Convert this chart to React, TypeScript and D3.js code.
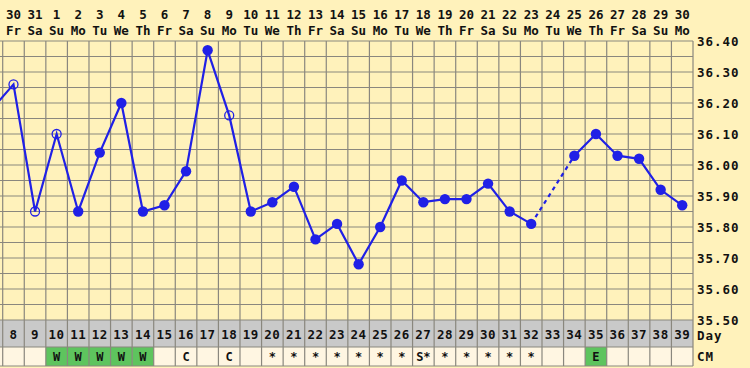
import * as d3 from "d3";
import { useEffect, useRef } from "react";

// chart days shown (cycle day numbers)
const cycleDays = d3.range(8, 40);
const dates = ["30", "31", "1", "2", "3", "4", "5", "6", "7", "8", "9", "10", "11", "12", "13", "14", "15", "16", "17", "18", "19", "20", "21", "22", "23", "24", "25", "26", "27", "28", "29", "30"];
const weekdays = ["Fr", "Sa", "Su", "Mo", "Tu", "We", "Th", "Fr", "Sa", "Su", "Mo", "Tu", "We", "Th", "Fr", "Sa", "Su", "Mo", "Tu", "We", "Th", "Fr", "Sa", "Su", "Mo", "Tu", "We", "Th", "Fr", "Sa", "Su", "Mo"];

// temperatures (day 7 runs off the left edge, day 33 missing)
const tempDays = [7, 8, 9, 10, 11, 12, 13, 14, 15, 16, 17, 18, 19, 20, 21, 22, 23, 24, 25, 26, 27, 28, 29, 30, 31, 32, 34, 35, 36, 37, 38, 39];
const temps = [36.18, 36.26, 35.85, 36.1, 35.85, 36.04, 36.2, 35.85, 35.87, 35.98, 36.37, 36.16, 35.85, 35.88, 35.93, 35.76, 35.81, 35.68, 35.8, 35.95, 35.88, 35.89, 35.89, 35.94, 35.85, 35.81, 36.03, 36.1, 36.03, 36.02, 35.92, 35.87];
const openDays = [8, 9, 10, 18];

const yTicks = [36.4, 36.3, 36.2, 36.1, 36.0, 35.9, 35.8, 35.7, 35.6, 35.5];

// cervical mucus row
const cmDays = [10, 11, 12, 13, 14, 16, 18, 20, 21, 22, 23, 24, 25, 26, 27, 28, 29, 30, 31, 32, 35];
const cmCodes = ["W", "W", "W", "W", "W", "C", "C", "*", "*", "*", "*", "*", "*", "*", "S*", "*", "*", "*", "*", "*", "E"];
const cmGreen = ["W", "E"];

const W = 750;
const H = 368;

const App: React.FC = () => {
  const ref = useRef<SVGSVGElement | null>(null);

  useEffect(() => {
    if (!ref.current) return;
    const svg = d3.select(ref.current);
    svg.selectAll("*").remove();

    const left = 2.7;
    const right = 693;
    const top = 41;
    const bottom = 320;
    const dayBottom = 347;
    const cmBottom = 366;
    const font = "'DejaVu Sans Mono', monospace";

    const x = d3.scaleLinear().domain([7.5, 39.5]).range([left, right]);
    const y = d3.scaleLinear().domain([35.5, 36.4]).range([bottom, top]);
    const colW = x(1) - x(0);

    svg.append("rect").attr("width", W).attr("height", H).attr("fill", "#fff2bb");

    // day row and cm row backgrounds
    svg.append("rect").attr("x", 0).attr("y", bottom).attr("width", right).attr("height", dayBottom - bottom).attr("fill", "#c9c9c9");
    svg.append("rect").attr("x", 0).attr("y", dayBottom).attr("width", right).attr("height", cmBottom - dayBottom).attr("fill", "#fff6e2");

    const cm = cmDays.map((d, i) => ({ d, c: cmCodes[i] }));
    svg.append("g").selectAll("rect").data(cm.filter((e) => cmGreen.includes(e.c))).join("rect")
      .attr("x", (e) => x(e.d - 0.5)).attr("y", dayBottom).attr("width", colW).attr("height", cmBottom - dayBottom)
      .attr("fill", "#5ec45e");

    // grid
    const grid = svg.append("g").attr("stroke", "#8a877e").attr("stroke-width", 1.2);
    grid.selectAll("line.h").data(d3.range(0, 19)).join("line")
      .attr("x1", 0).attr("x2", right)
      .attr("y1", (i) => y(35.5 + i * 0.05)).attr("y2", (i) => y(35.5 + i * 0.05));
    grid.selectAll("line.v").data(d3.range(7.5, 40.5, 1)).join("line")
      .attr("x1", (d) => x(d)).attr("x2", (d) => x(d))
      .attr("y1", top).attr("y2", cmBottom);
    grid.append("line").attr("x1", 0).attr("x2", right).attr("y1", dayBottom).attr("y2", dayBottom);
    grid.append("line").attr("x1", 0).attr("x2", right).attr("y1", cmBottom).attr("y2", cmBottom);

    // header
    const txt = (g: d3.Selection<SVGGElement, unknown, null, undefined>) =>
      g.attr("font-family", font).attr("font-weight", "bold").attr("font-size", 12.5).attr("fill", "#111");
    const head = svg.append("g").call(txt).attr("text-anchor", "middle");
    head.selectAll("text.d").data(cycleDays).join("text")
      .attr("x", (d) => x(d)).attr("y", 19).text((d, i) => dates[i]);
    head.append("g").selectAll("text").data(cycleDays).join("text")
      .attr("x", (d) => x(d)).attr("y", 35).text((d, i) => weekdays[i]);

    // day numbers
    const dayRow = svg.append("g").call(txt).attr("text-anchor", "middle").attr("letter-spacing", 0.5);
    dayRow.selectAll("text").data(cycleDays).join("text")
      .attr("x", (d) => x(d)).attr("y", 339).text((d) => d);

    // cm codes
    const cmRow = svg.append("g").call(txt).attr("text-anchor", "middle").attr("font-size", 12);
    cmRow.selectAll("text").data(cm).join("text")
      .attr("x", (e) => x(e.d)).attr("y", 361).text((e) => e.c);

    // right axis labels
    const axis = svg.append("g").call(txt).attr("letter-spacing", 1);
    axis.selectAll("text").data(yTicks).join("text")
      .attr("x", 697).attr("y", (t) => y(t) + 5).text((t) => t.toFixed(2));
    axis.append("text").attr("x", 697).attr("y", 340).text("Day");
    axis.append("text").attr("x", 697).attr("y", 361).text("CM");

    // temperature line
    const pts = tempDays.map((d, i) => ({ d, t: temps[i] }));
    const blue = "#2020e6";
    const line = d3.line<{ d: number; t: number }>().x((p) => x(p.d)).y((p) => y(p.t));
    const gapIdx = pts.findIndex((p) => p.d === 34);
    const plot = svg.append("g");
    plot.append("path").datum(pts.slice(0, gapIdx)).attr("fill", "none").attr("stroke", blue).attr("stroke-width", 2.2).attr("d", line);
    plot.append("path").datum(pts.slice(gapIdx - 1, gapIdx + 1)).attr("fill", "none").attr("stroke", blue).attr("stroke-width", 2.2)
      .attr("stroke-dasharray", "4,4").attr("d", line);
    plot.append("path").datum(pts.slice(gapIdx)).attr("fill", "none").attr("stroke", blue).attr("stroke-width", 2.2).attr("d", line);

    plot.selectAll("circle").data(pts.filter((p) => p.d >= 8)).join("circle")
      .attr("cx", (p) => x(p.d)).attr("cy", (p) => y(p.t))
      .attr("r", (p) => (openDays.includes(p.d) ? 4.5 : 5.2))
      .attr("fill", (p) => (openDays.includes(p.d) ? "none" : blue))
      .attr("stroke", blue).attr("stroke-width", (p) => (openDays.includes(p.d) ? 1.3 : 0));
  }, []);

  return <svg ref={ref} width={W} height={H} style={{ position: "absolute", left: 0, top: 0 }} />;
};

export default App;
